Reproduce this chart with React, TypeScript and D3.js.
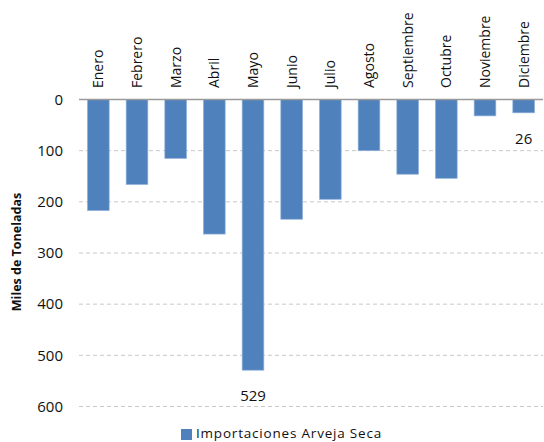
import React from "react";
import * as d3 from "d3";

const months = ["Enero","Febrero","Marzo","Abril","Mayo","Junio","Julio","Agosto","Septiembre","Octubre","Noviembre","Diciembre"];
const values = [217, 166, 115, 263, 529, 234, 195, 100, 146, 154, 32, 26];
const labeled = ["Mayo", "Diciembre"];
const yTicks = [0, 100, 200, 300, 400, 500, 600];
const seriesName = "Importaciones Arveja Seca";
const yTitle = "Miles de Toneladas";

const W = 544, H = 442;
const left = 79, right = 543, top = 99.5, bottom = 406.5;
const font = "'Open Sans', sans-serif";

export default function App() {
  const x = d3.scaleBand<string>().domain(months).range([left, right]).paddingInner(0.44).paddingOuter(0.22);
  const y = d3.scaleLinear().domain([0, 600]).range([top, bottom]);
  return (
    <svg width={W} height={H} style={{ position: "absolute", left: 0, top: 0 }}>
      <rect width={W} height={H} fill="#fff" />
      {yTicks.filter(t => t > 0).map(t => (
        <line key={t} x1={left} x2={right} y1={y(t)} y2={y(t)} stroke="#c8c8c8" strokeDasharray="4,3" strokeWidth={1} />
      ))}
      {yTicks.map(t => (
        <text key={t} x={63} y={y(t)} dy="0.35em" textAnchor="end" fontFamily={font} fontSize={15} fill="#111">{t}</text>
      ))}
      {months.map((m, i) => (
        <rect key={m} x={x(m)} y={y(0)} width={x.bandwidth()} height={y(values[i]) - y(0)} fill="#4F81BD" stroke="#8DB0DA" strokeWidth={0.7} />
      ))}
      <line x1={left} x2={right} y1={y(0)} y2={y(0)} stroke="#9a9a9a" strokeWidth={1.3} />
      {months.map(m => (
        <text key={m} transform={`translate(${(x(m) as number) + x.bandwidth() / 2},88) rotate(-90)`} dy="0.35em" textAnchor="start" fontFamily={font} fontSize={14} fill="#111">{m}</text>
      ))}
      {months.map((m, i) => labeled.includes(m) ? (
        <text key={m} x={(x(m) as number) + x.bandwidth() / 2} y={y(values[i]) + 26} dy="0.35em" textAnchor="middle" fontFamily={font} fontSize={15} fill="#111">{values[i]}</text>
      ) : null)}
      <text transform={`translate(17,252) rotate(-90)`} dy="0.35em" textAnchor="middle" fontFamily={font} fontSize={12.5} fontWeight="bold" fill="#111">{yTitle}</text>
      <rect x={181} y={429} width={11} height={11} fill="#4F81BD" />
      <text x={196} y={433} dy="0.35em" fontFamily={font} fontSize={13.5} letterSpacing={0.8} fill="#111">{seriesName}</text>
    </svg>
  );
}
